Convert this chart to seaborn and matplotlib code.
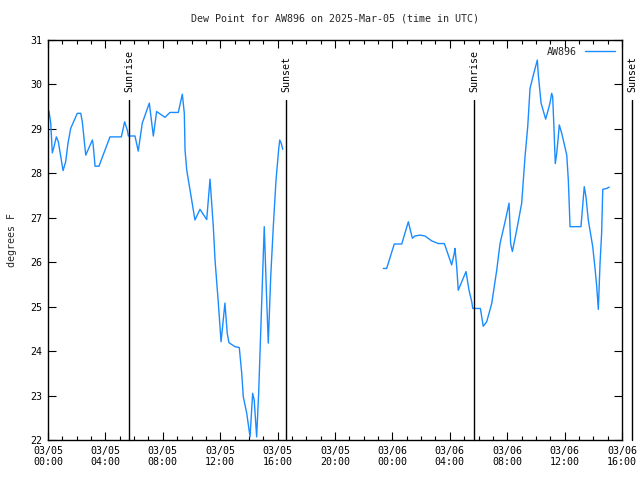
import numpy as np
import pandas as pd
import matplotlib
matplotlib.use("Agg")
import matplotlib.pyplot as plt
from matplotlib.ticker import MultipleLocator
from matplotlib.lines import Line2D
import seaborn as sns

# ---- data (hours since 2025-03-05 00:00 UTC, dew point in F) ----
seg1_hours = [0.07, 0.19, 0.30, 0.42, 0.58, 0.72, 1.05, 1.23, 1.39, 1.58, 2.04, 2.28,
              2.39, 2.63, 3.09, 3.14, 3.28, 3.55, 4.32, 5.11, 5.34, 5.53, 5.60, 6.06,
              6.29, 6.57, 7.06, 7.23, 7.34, 7.57, 8.15, 8.50, 9.08, 9.36, 9.50, 9.55,
              9.67, 9.90, 10.24, 10.59, 11.06, 11.29, 11.52, 11.64, 11.87, 12.06, 12.33,
              12.49, 12.61, 13.03, 13.33, 13.50, 13.61, 13.85, 14.08, 14.26, 14.37,
              14.54, 14.68, 14.82, 14.96, 15.07, 15.24, 15.35, 15.52, 15.70, 15.89,
              16.08, 16.15, 16.26, 16.36]
seg1_dew = [29.40, 29.13, 28.46, 28.60, 28.82, 28.71, 28.06, 28.26, 28.67, 29.01, 29.35, 29.35,
            29.16, 28.41, 28.75, 28.67, 28.16, 28.16, 28.82, 28.82, 29.16, 28.97, 28.84, 28.84,
            28.50, 29.13, 29.58, 29.13, 28.84, 29.39, 29.26, 29.37, 29.37, 29.78, 29.35, 28.52,
            28.07, 27.62, 26.95, 27.19, 26.96, 27.87, 26.80, 26.05, 25.08, 24.21, 25.08,
            24.40, 24.19, 24.10, 24.08, 23.50, 22.97, 22.60, 22.07, 23.05, 22.90,
            22.07, 23.05, 24.40, 25.75, 26.80, 25.15, 24.18, 25.67, 26.80, 27.85,
            28.56, 28.75, 28.67, 28.54]

seg2_hours = [23.37, 23.60, 24.13, 24.65, 25.11, 25.39, 25.57, 25.92, 26.27, 26.74, 27.20,
              27.62, 28.13, 28.31, 28.36, 28.48, 28.59, 29.13, 29.34, 29.53, 29.60, 30.13,
              30.33, 30.57, 30.92, 31.27, 31.50, 31.85, 32.13, 32.24, 32.36, 32.66, 33.01,
              33.24, 33.43, 33.59, 33.82, 34.10, 34.17, 34.36, 34.68, 34.86, 34.98, 35.10,
              35.17, 35.26, 35.35, 35.45, 35.56, 35.63, 35.80, 35.96, 36.15, 36.26, 36.38,
              36.84, 37.14, 37.37, 37.49, 37.65, 37.96, 38.12, 38.24, 38.35, 38.47, 38.58,
              38.66, 38.93, 39.11]
seg2_dew = [25.86, 25.86, 26.41, 26.41, 26.91, 26.54, 26.59, 26.61, 26.59, 26.48, 26.42,
            26.42, 25.94, 26.20, 26.31, 25.90, 25.37, 25.79, 25.37, 25.11, 24.96, 24.96,
            24.56, 24.66, 25.07, 25.82, 26.42, 26.91, 27.33, 26.42, 26.24, 26.72, 27.33,
            28.37, 29.05, 29.91, 30.21, 30.55, 30.21, 29.58, 29.22, 29.43, 29.58, 29.80,
            29.72, 29.01, 28.22, 28.45, 28.82, 29.09, 28.90, 28.68, 28.41, 27.85, 26.80,
            26.80, 26.80, 27.70, 27.47, 26.95, 26.35, 25.86, 25.45, 24.94, 25.98, 26.65,
            27.64, 27.66, 27.69]

sun_hours = [5.64, 16.58, 29.69, 40.70]
sun_labels = ["Sunrise", "Sunset", "Sunrise", "Sunset"]

xtick_hours = [0, 4, 8, 12, 16, 20, 24, 28, 32, 36, 40]
xtick_labels = ["03/05\n00:00", "03/05\n04:00", "03/05\n08:00", "03/05\n12:00",
                "03/05\n16:00", "03/05\n20:00", "03/06\n00:00", "03/06\n04:00",
                "03/06\n08:00", "03/06\n12:00", "03/06\n16:00"]
ytick_vals = [22, 23, 24, 25, 26, 27, 28, 29, 30, 31]
series_name = "AW896"

df = pd.DataFrame({
    "hours": seg1_hours + seg2_hours,
    "dew": seg1_dew + seg2_dew,
    "segment": [1] * len(seg1_hours) + [2] * len(seg2_hours),
})

sns.set_style("ticks")
plt.rcParams["font.family"] = ["DejaVu Sans Mono", "DejaVu Sans"]
plt.rcParams["font.size"] = 7.2

fig = plt.figure(figsize=(6.4, 4.8), dpi=100)
ax = fig.add_axes([48 / 640, 40 / 480, 574 / 640, 400 / 480])

line_color = "#1a8cff"
sns.lineplot(data=df, x="hours", y="dew", units="segment", estimator=None,
             color=line_color, linewidth=1.0, ax=ax, legend=False)

for h, lab in zip(sun_hours, sun_labels):
    ax.plot([h, h], [22, 29.65], color="black", linewidth=1.0, clip_on=False, zorder=3)
    ax.text(h, 29.82, lab, rotation=90, ha="center", va="bottom",
            fontsize=7.2, color="black", clip_on=False)

ax.set_xlim(0, 40)
ax.set_ylim(22, 31)
ax.set_xticks(xtick_hours)
ax.set_xticklabels(xtick_labels)
ax.set_yticks(ytick_vals)
ax.xaxis.set_minor_locator(MultipleLocator(1))
ax.tick_params(axis="both", which="both", direction="in", bottom=True, left=True,
               top=True, right=True, labelsize=7.2, colors="black")
ax.tick_params(which="major", length=6, width=0.8, pad=4)
ax.tick_params(which="minor", length=3, width=0.8)
for sp in ax.spines.values():
    sp.set_color("black")
    sp.set_linewidth(1.0)
    sp.set_visible(True)

ax.set_xlabel("")
ax.set_ylabel("degrees F", fontsize=7.2, labelpad=10)
ax.set_title("Dew Point for AW896 on 2025-Mar-05 (time in UTC)", fontsize=7.2, pad=13)

handle = Line2D([], [], color=line_color, linewidth=1.0)
ax.legend([handle], [series_name], loc="upper right", frameon=False, markerfirst=False,
          fontsize=7.2, handlelength=3.0, borderaxespad=0.3)

fig.savefig("out.png", dpi=100, facecolor="white")
